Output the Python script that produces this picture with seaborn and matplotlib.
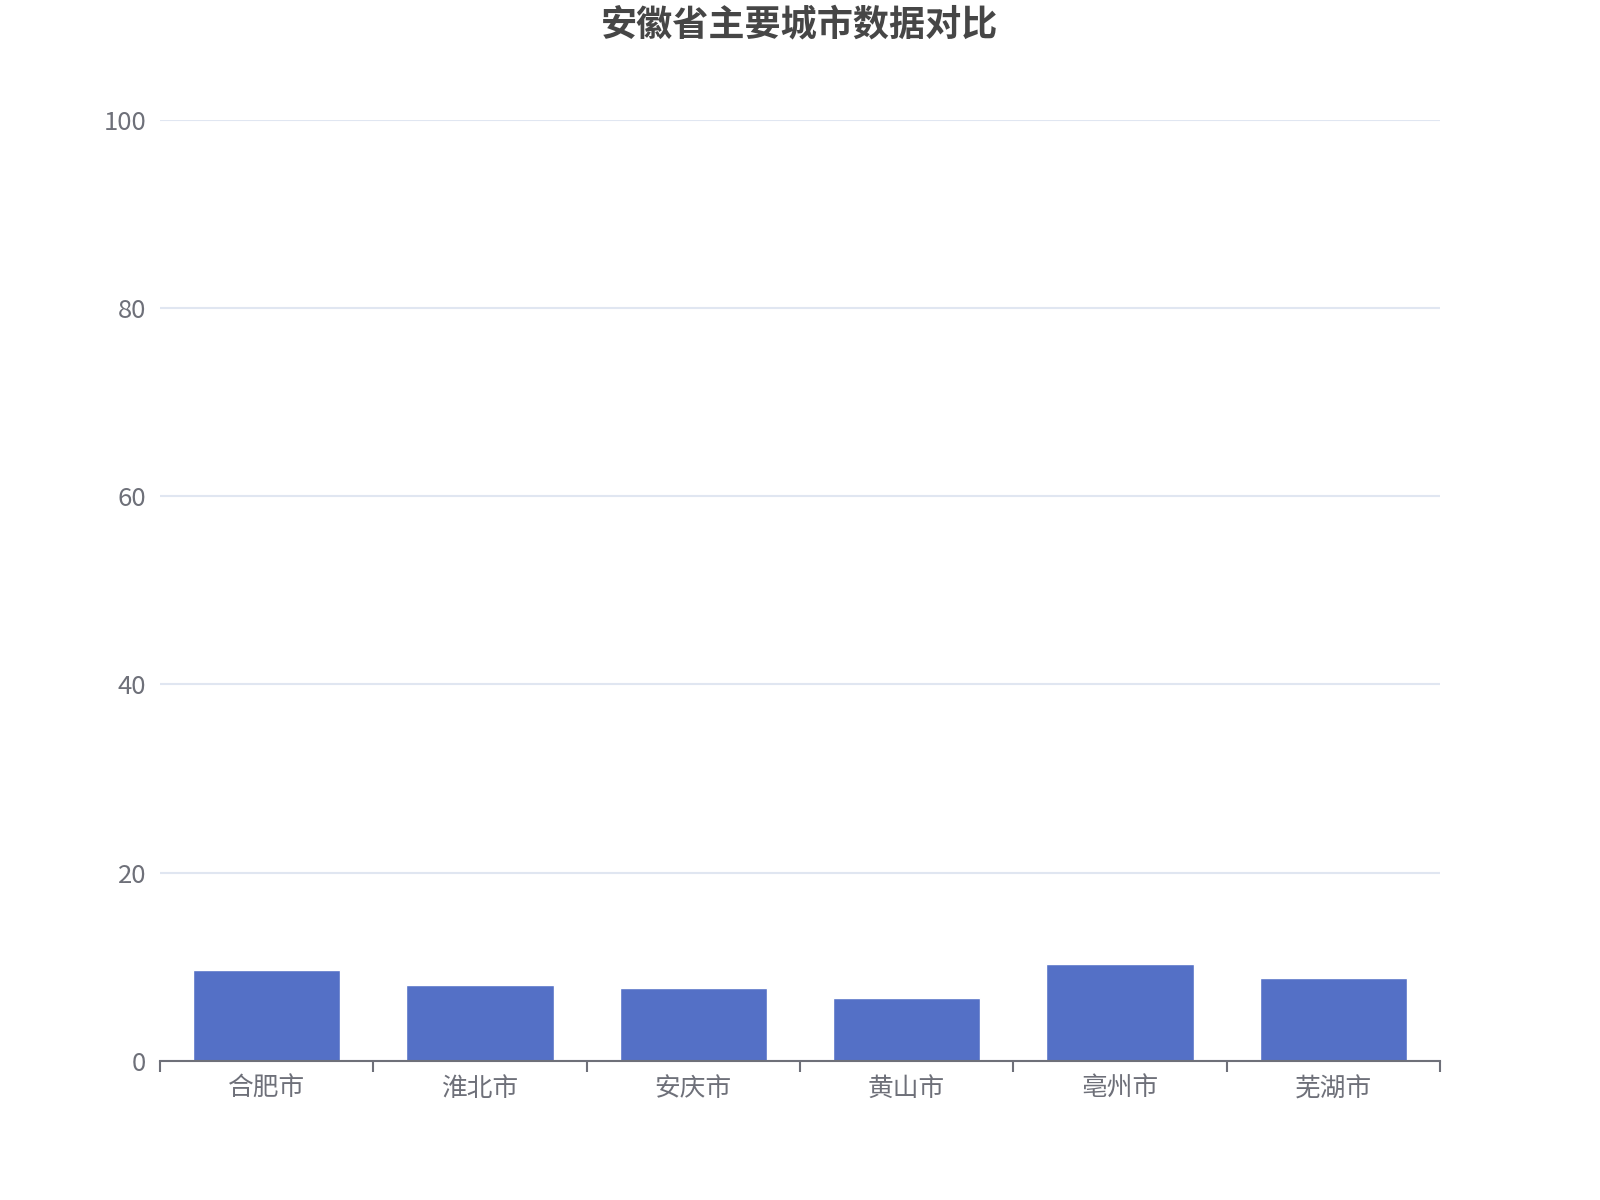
import matplotlib
matplotlib.use("Agg")
import matplotlib.pyplot as plt
import seaborn as sns
import pandas as pd
import numpy as np

cities = ["合肥市", "淮北市", "安庆市", "黄山市", "亳州市", "芜湖市"]
values = [9.6, 8.1, 7.7, 6.7, 10.3, 8.8]
y_ticks = [0, 20, 40, 60, 80, 100]
title = "安徽省主要城市数据对比"

sns.set_theme(style="white")
plt.rcParams["font.family"] = ["Noto Sans CJK SC", "DejaVu Sans"]

df = pd.DataFrame({"city": cities, "value": values})

fig = plt.figure(figsize=(16, 12), dpi=100)
ax = fig.add_axes([0.1, 0.116, 0.8, 0.784])

sns.barplot(data=df, x="city", y="value", color="#5470c6", width=0.69,
            saturation=1, ax=ax, zorder=3)

ax.set_ylim(0, 100)
ax.set_xlim(-0.5, len(cities) - 0.5)
ax.set_yticks(y_ticks)
ax.set_yticklabels([str(v) for v in y_ticks])
ax.yaxis.grid(True, color="#E0E6F1", linewidth=1.5, zorder=0)
ax.xaxis.grid(False)
ax.set_axisbelow(True)

# category boundary ticks
ax.set_xticks(np.arange(-0.5, len(cities), 1.0))
ax.set_xticklabels([])
ax.set_xticks(np.arange(len(cities)), minor=True)
ax.set_xticklabels(cities, minor=True)
ax.tick_params(axis="x", which="major", bottom=True, length=8, width=1.5,
               color="#6E7079", direction="out")
ax.tick_params(axis="x", which="minor", bottom=True, length=0, pad=11,
               labelsize=18.5, labelcolor="#6E7079")
ax.tick_params(axis="y", left=False, length=0, pad=10, labelsize=18.5,
               labelcolor="#6E7079")
for lbl in ax.get_yticklabels():
    lbl.set_verticalalignment("center_baseline")

for s in ["top", "right", "left"]:
    ax.spines[s].set_visible(False)
ax.spines["bottom"].set_color("#6E7079")
ax.spines["bottom"].set_linewidth(1.5)
ax.spines["bottom"].set_zorder(4)

ax.set_xlabel("")
ax.set_ylabel("")

fig.text(0.5, 0.979, title, ha="center", va="center", fontsize=26,
         fontweight="bold", color="#464646")

fig.savefig("out.png", dpi=100, facecolor="white")
